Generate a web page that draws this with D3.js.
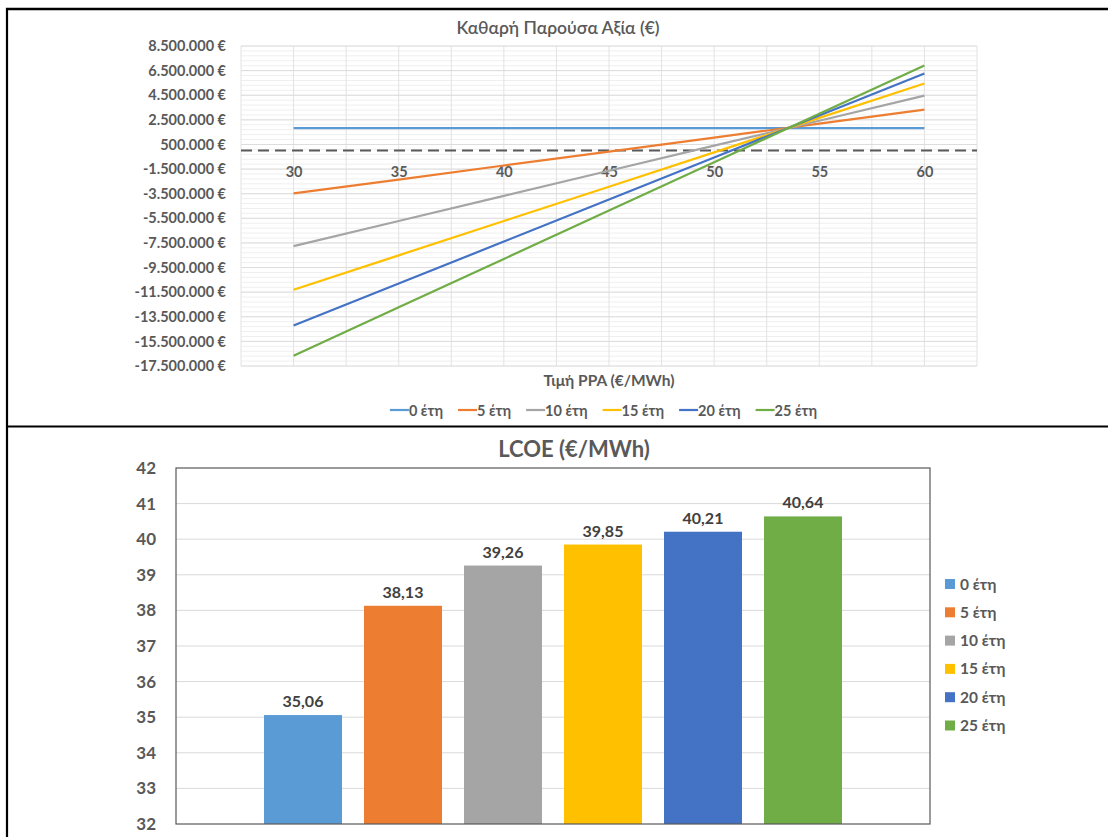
<!DOCTYPE html>
<html>
<head>
<meta charset="utf-8">
<script src="https://cdn.jsdelivr.net/npm/d3@7"></script>
<style>
  html, body { margin: 0; padding: 0; background: #ffffff; }
  svg { display: block; font-family: Lato, "Noto Sans", sans-serif; }
</style>
</head>
<body>
<svg id="chart" width="1108" height="837"></svg>
<script>
// ---------- data ----------
const seriesNames = ["0 έτη", "5 έτη", "10 έτη", "15 έτη", "20 έτη", "25 έτη"];
const seriesColors = ["#5B9BD5", "#ED7D31", "#A5A5A5", "#FFC000", "#4472C4", "#70AD47"];

// NPV chart (values in €) at PPA price
const ppaPrices = [30, 35, 40, 45, 50, 55, 60];
const npv0  = [1830000, 1830000, 1830000, 1830000, 1830000, 1830000, 1830000];
const npv5  = [-3480000, -2350000, -1210000, -80000, 1060000, 2190000, 3330000];
const npv10 = [-7760000, -5720000, -3680000, -1640000, 400000, 2430000, 4470000];
const npv15 = [-11300000, -8510000, -5720000, -2930000, -140000, 2660000, 5450000];
const npv20 = [-14210000, -10800000, -7390000, -3970000, -560000, 2860000, 6270000];
const npv25 = [-16660000, -12730000, -8800000, -4870000, -940000, 2990000, 6920000];
const npvSeries = [npv0, npv5, npv10, npv15, npv20, npv25];
const npvYTicks = [8500000, 6500000, 4500000, 2500000, 500000, -1500000, -3500000, -5500000,
  -7500000, -9500000, -11500000, -13500000, -15500000, -17500000];
const npvXTicks = [30, 35, 40, 45, 50, 55, 60];

// LCOE chart
const lcoeValues = [35.06, 38.13, 39.26, 39.85, 40.21, 40.64];
const lcoeYTicks = [32, 33, 34, 35, 36, 37, 38, 39, 40, 41, 42];

const npvTitle = "Καθαρή Παρούσα Αξία (€)";
const npvXTitle = "Τιμή PPA (€/MWh)";
const lcoeTitle = "LCOE (€/MWh)";

// ---------- helpers ----------
const loc = d3.formatLocale({ decimal: ",", thousands: ".", grouping: [3], currency: ["", " €"], minus: "-" });
const fmtEuro = v => loc.format(",.0f")(v) + " €";
const fmt2 = loc.format(".2f");

const svg = d3.select("#chart");
const textColor = "#595959";

// ---------- top chart: NPV ----------
{
  const x = d3.scaleLinear().domain([27.5, 62.5]).range([241, 977]);
  const y = d3.scaleLinear().domain([-17500000, 8500000]).range([366, 46]);
  const g = svg.append("g");

  // minor horizontal gridlines
  const minor = d3.range(-17500000, 8500001, 400000);
  g.append("g").selectAll("line").data(minor).join("line")
    .attr("x1", x(27.5)).attr("x2", x(62.5))
    .attr("y1", d => y(d)).attr("y2", d => y(d))
    .attr("stroke", "#efefef").attr("stroke-width", 1);
  // vertical gridlines
  const vgrid = d3.range(27.5, 62.51, 2.5);
  g.append("g").selectAll("line").data(vgrid).join("line")
    .attr("x1", d => x(d)).attr("x2", d => x(d))
    .attr("y1", y(8500000)).attr("y2", y(-17500000))
    .attr("stroke", "#e2e2e2").attr("stroke-width", 1);
  // major horizontal gridlines
  g.append("g").selectAll("line").data(npvYTicks).join("line")
    .attr("x1", x(27.5)).attr("x2", x(62.5))
    .attr("y1", d => y(d)).attr("y2", d => y(d))
    .attr("stroke", "#dcdcdc").attr("stroke-width", 1);

  // y axis labels
  const yAxis = d3.axisLeft(y).tickValues(npvYTicks).tickFormat(fmtEuro).tickSize(0).tickPadding(15);
  const ya = g.append("g").attr("transform", `translate(${x(27.5)},0)`).call(yAxis);
  ya.select(".domain").remove();
  ya.selectAll("text").attr("fill", textColor).attr("font-size", 14.5).attr("font-weight", 700)
    .attr("font-family", "Lato, sans-serif");

  // x axis at 0 (dashed)
  g.append("line").attr("x1", x(27.5)).attr("x2", x(62.5)).attr("y1", y(0)).attr("y2", y(0))
    .attr("stroke", "#595959").attr("stroke-width", 2).attr("stroke-dasharray", "11,6");
  const xAxis = d3.axisBottom(x).tickValues(npvXTicks).tickFormat(d => d).tickSize(0).tickPadding(16);
  const xa = g.append("g").attr("transform", `translate(0,${y(0)})`).call(xAxis);
  xa.select(".domain").remove();
  xa.selectAll("text").attr("fill", textColor).attr("font-size", 14.5).attr("font-weight", 700)
    .attr("font-family", "Lato, sans-serif");

  // lines
  const line = d3.line().x((d, i) => x(ppaPrices[i])).y(d => y(d));
  g.append("g").selectAll("path").data(npvSeries).join("path")
    .attr("d", d => line(d)).attr("fill", "none")
    .attr("stroke", (d, i) => seriesColors[i]).attr("stroke-width", 2.2);

  // title
  g.append("text").attr("x", 558).attr("y", 34).attr("text-anchor", "middle")
    .attr("fill", textColor).attr("font-size", 17.5).attr("font-weight", 600)
    .text(npvTitle);
  // x axis title
  g.append("text").attr("x", 609).attr("y", 386).attr("text-anchor", "middle")
    .attr("fill", textColor).attr("font-size", 15.5).attr("font-weight", 700)
    .text(npvXTitle);

  // legend
  const lg = g.append("g");
  let cx = 0;
  const items = [];
  seriesNames.forEach((name, i) => {
    const it = lg.append("g");
    it.append("line").attr("x1", 0).attr("x2", 19).attr("y1", 0).attr("y2", 0)
      .attr("stroke", seriesColors[i]).attr("stroke-width", 2.2);
    const t = it.append("text").attr("x", 19).attr("y", 5.5).attr("fill", textColor)
      .attr("font-size", 14.5).attr("font-weight", 700).text(name);
    items.push({ it, w: 19 + t.node().getComputedTextLength() });
  });
  const gap = 15;
  const total = d3.sum(items, d => d.w) + gap * (items.length - 1);
  cx = 603.5 - total / 2;
  items.forEach(d => { d.it.attr("transform", `translate(${cx},410)`); cx += d.w + gap; });
}

// ---------- bottom chart: LCOE ----------
{
  const x = d3.scaleBand().domain(seriesNames).range([176, 930]).paddingInner(0.22).paddingOuter(0.88);
  const y = d3.scaleLinear().domain([32, 42]).range([824, 468]);
  const g = svg.append("g");

  g.append("g").selectAll("line").data(lcoeYTicks.slice(1, -1)).join("line")
    .attr("x1", 176).attr("x2", 930).attr("y1", d => y(d)).attr("y2", d => y(d))
    .attr("stroke", "#d9d9d9").attr("stroke-width", 1);

  g.append("g").selectAll("rect").data(lcoeValues).join("rect")
    .attr("x", (d, i) => x(seriesNames[i])).attr("width", x.bandwidth())
    .attr("y", d => y(d)).attr("height", d => y(32) - y(d))
    .attr("fill", (d, i) => seriesColors[i]);

  // plot border
  g.append("rect").attr("x", 176).attr("y", 468).attr("width", 930 - 176).attr("height", 824 - 468)
    .attr("fill", "none").attr("stroke", "#595959").attr("stroke-width", 1.2);

  const yAxis = d3.axisLeft(y).tickValues(lcoeYTicks).tickFormat(d => d).tickSize(0).tickPadding(20);
  const ya = g.append("g").attr("transform", "translate(176,0)").call(yAxis);
  ya.select(".domain").remove();
  ya.selectAll("text").attr("fill", textColor).attr("font-size", 17).attr("font-weight", 700)
    .attr("font-family", "Lato, sans-serif");

  // value labels
  g.append("g").selectAll("text").data(lcoeValues).join("text")
    .attr("x", (d, i) => x(seriesNames[i]) + x.bandwidth() / 2).attr("y", d => y(d) - 8)
    .attr("text-anchor", "middle").attr("fill", "#404040")
    .attr("font-size", 16).attr("font-weight", 700).text(d => fmt2(d));

  // title
  g.append("text").attr("x", 574).attr("y", 457).attr("text-anchor", "middle")
    .attr("fill", textColor).attr("font-size", 22).attr("font-weight", 700).text(lcoeTitle);

  // legend
  const lg = g.append("g");
  seriesNames.forEach((name, i) => {
    const yy = 584 + i * 28.3;
    lg.append("rect").attr("x", 945).attr("y", yy - 5).attr("width", 10).attr("height", 10)
      .attr("fill", seriesColors[i]);
    lg.append("text").attr("x", 960).attr("y", yy + 5.5).attr("fill", textColor)
      .attr("font-size", 15.5).attr("font-weight", 700).text(name);
  });
}

// ---------- frame lines ----------
svg.append("line").attr("x1", 6).attr("x2", 1108).attr("y1", 9).attr("y2", 9)
  .attr("stroke", "#000").attr("stroke-width", 2.5);
svg.append("line").attr("x1", 7).attr("x2", 7).attr("y1", 8).attr("y2", 837)
  .attr("stroke", "#000").attr("stroke-width", 2.2);
svg.append("line").attr("x1", 6).attr("x2", 1108).attr("y1", 426.5).attr("y2", 426.5)
  .attr("stroke", "#000").attr("stroke-width", 2.2);
</script>
</body>
</html>
